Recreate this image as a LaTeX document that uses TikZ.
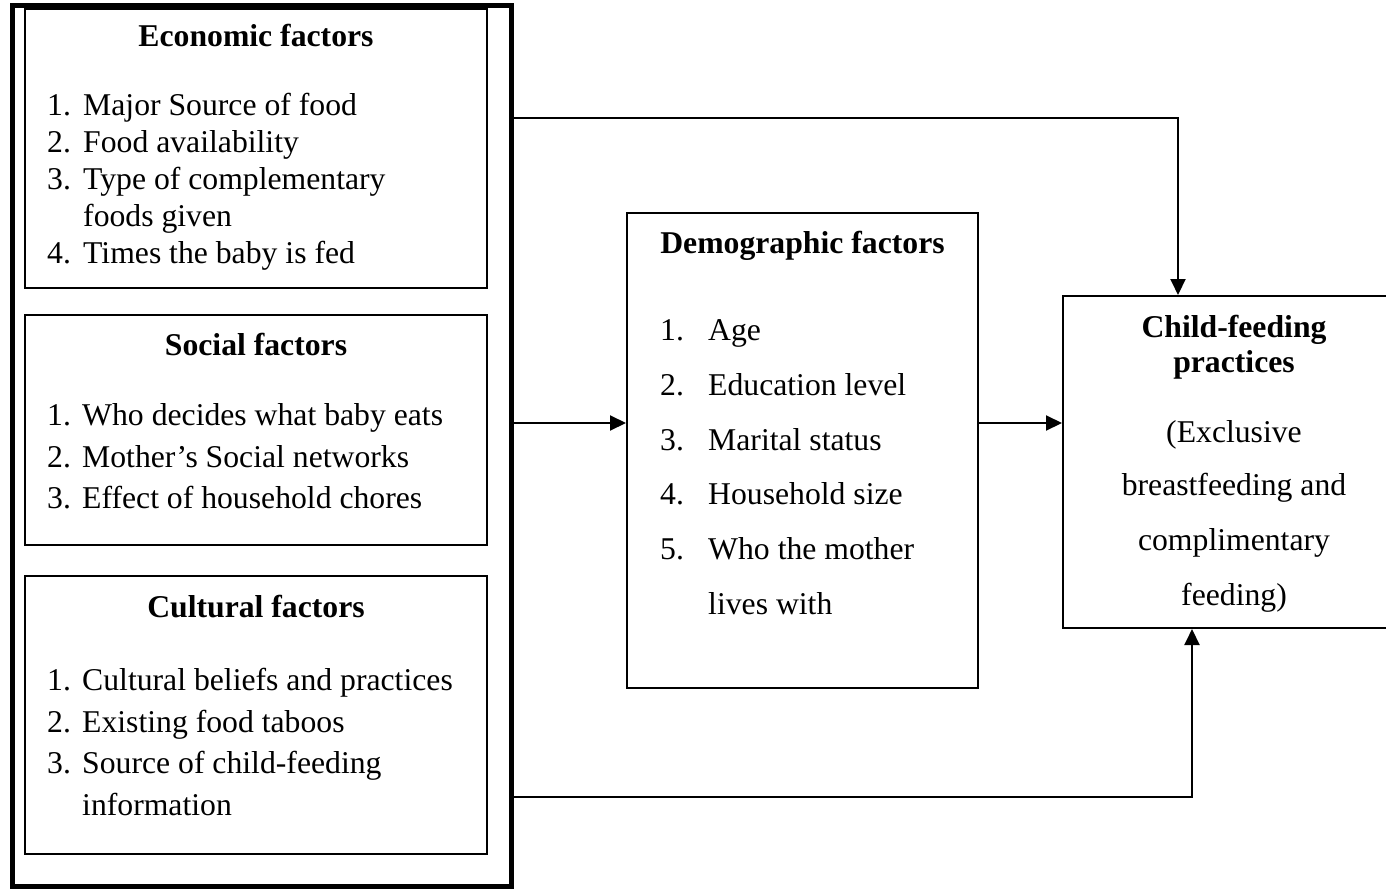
\documentclass[tikz,border=0pt]{standalone}
\usepackage{fontspec}
\setmainfont{Liberation Serif}
\usetikzlibrary{arrows.meta}
\begin{document}
\begin{tikzpicture}[x=1pt,y=-1pt,
  box/.style={draw=black,line width=2pt,rectangle,inner sep=0pt},
  outerbox/.style={draw=black,line width=5pt,rectangle,inner sep=0pt},
  txt/.style={anchor=base west,inner sep=0pt,font=\fontsize{31.7pt}{38pt}\selectfont},
  ctxt/.style={anchor=base,inner sep=0pt,font=\fontsize{31.7pt}{38pt}\selectfont},
  ttl/.style={anchor=base,inner sep=0pt,font=\fontsize{31.7pt}{38pt}\selectfont\bfseries},
  arr/.style={draw=black,line width=2pt,-{Triangle[length=16pt,width=15pt]}}]
\useasboundingbox[fill=white] (0,0) rectangle (1386,891);

% boxes
\node[outerbox,minimum width=499pt,minimum height=880pt] (outer) at (261.5,446) {};
\node[box,minimum width=462pt,minimum height=279pt] (econ) at (256,148.5) {};
\node[box,minimum width=462pt,minimum height=230pt] (soc) at (256,430) {};
\node[box,minimum width=462pt,minimum height=278pt] (cult) at (256,715) {};
\node[box,minimum width=351pt,minimum height=475pt] (demo) at (802.5,450.5) {};
\node[box,minimum width=342pt,minimum height=332pt] (child) at (1234,462) {};

% economic
\node[ttl] (et) at (256,47) {Economic factors};
\node[txt] (en1) at (47,115) {1.}; \node[txt] (e1) at (83,115) {Major Source of food};
\node[txt] (en2) at (47,152) {2.}; \node[txt] (e2) at (83,152) {Food availability};
\node[txt] (en3) at (47,189) {3.}; \node[txt] (e3) at (83,189) {Type of complementary};
\node[txt] (e3b) at (83,226) {foods given};
\node[txt] (en4) at (47,263) {4.}; \node[txt] (e4) at (83,263) {Times the baby is fed};

% social
\node[ttl] (st) at (256,355) {Social factors};
\node[txt] (sn1) at (47,425) {1.}; \node[txt] (s1) at (82,425) {Who decides what baby eats};
\node[txt] (sn2) at (47,467) {2.}; \node[txt] (s2) at (82,467) {Mother’s Social networks};
\node[txt] (sn3) at (47,508) {3.}; \node[txt] (s3) at (82,508) {Effect of household chores};

% cultural
\node[ttl] (ct) at (256,617) {Cultural factors};
\node[txt] (cn1) at (47,690) {1.}; \node[txt] (c1) at (82,690) {Cultural beliefs and practices};
\node[txt] (cn2) at (47,732) {2.}; \node[txt] (c2) at (82,732) {Existing food taboos};
\node[txt] (cn3) at (47,773) {3.}; \node[txt] (c3) at (82,773) {Source of child-feeding};
\node[txt] (c3b) at (82,815) {information};

% demographic
\node[ttl] (dt) at (802.5,253) {Demographic factors};
\node[txt] (dn1) at (660,340) {1.}; \node[txt] (d1) at (708,340) {Age};
\node[txt] (dn2) at (660,395) {2.}; \node[txt] (d2) at (708,395) {Education level};
\node[txt] (dn3) at (660,450) {3.}; \node[txt] (d3) at (708,450) {Marital status};
\node[txt] (dn4) at (660,504) {4.}; \node[txt] (d4) at (708,504) {Household size};
\node[txt] (dn5) at (660,559) {5.}; \node[txt] (d5) at (708,559) {Who the mother};
\node[txt] (d5b) at (708,614) {lives with};

% child-feeding
\node[ttl] (cf1) at (1234,337) {Child-feeding};
\node[ttl] (cf2) at (1234,372) {practices};
\node[ctxt] (cf3) at (1234,442) {(Exclusive};
\node[ctxt] (cf4) at (1234,495) {breastfeeding and};
\node[ctxt] (cf5) at (1234,550) {complimentary};
\node[ctxt] (cf6) at (1234,605) {feeding)};

% connectors
\coordinate (topy) at (0,118);
\coordinate (topx) at (1178,0);
\coordinate (midy) at (0,423);
\coordinate (boty) at (0,797);
\coordinate (botx) at (1192,0);
\draw[arr] (outer.east |- topy) -| (child.north -| topx);
\draw[arr] (outer.east |- midy) -- (demo.west |- midy);
\draw[arr] (demo.east |- midy) -- (child.west |- midy);
\draw[arr] (outer.east |- boty) -| (child.south -| botx);
\end{tikzpicture}
\end{document}
